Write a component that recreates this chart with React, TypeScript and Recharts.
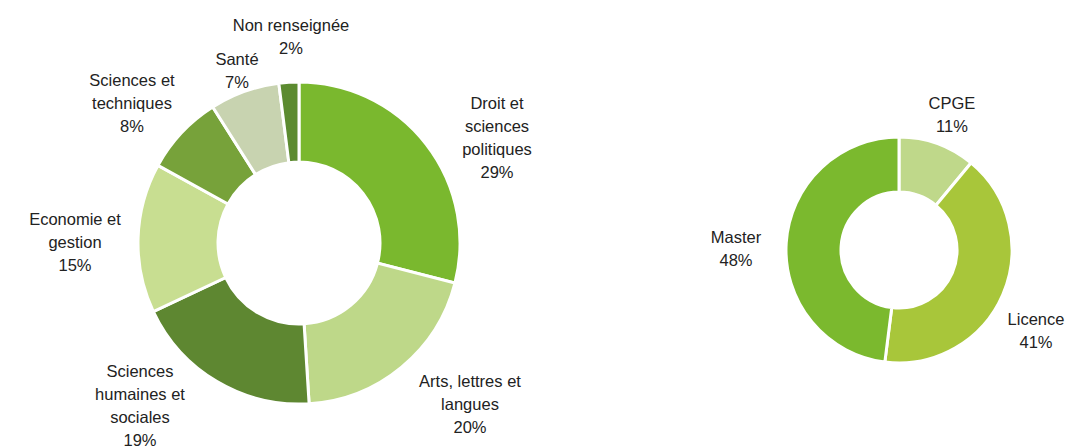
import { PieChart, Pie, Cell } from 'recharts';

// left donut: disciplines
const disciplineNames = [
  'Droit et|sciences|politiques',
  'Arts, lettres et|langues',
  'Sciences|humaines et|sociales',
  'Economie et|gestion',
  'Sciences et|techniques',
  'Santé',
  'Non renseignée',
];
const disciplineValues = [29, 20, 19, 15, 8, 7, 2];
const disciplineColors = ['#7ab82e', '#bed889', '#5e8731', '#c8de91', '#77a23a', '#c8d3b0', '#5c8b30'];
// label offsets from the donut centre (layout only)
const disciplineLabelOffsets = [
  [198, -106], [171, 161], [-159, 162], [-224, -1], [-167, -140], [-62, -173], [-8, -207],
];

// right donut: cursus level
const levelNames = ['CPGE', 'Licence', 'Master'];
const levelValues = [11, 41, 48];
const levelColors = ['#bfd88a', '#a8c63a', '#7bb92e'];
const levelLabelOffsets = [[53, -136], [137, 80], [-163, -2]];

const disciplineData = disciplineNames.map((name, i) => ({ name, value: disciplineValues[i] }));
const levelData = levelNames.map((name, i) => ({ name, value: levelValues[i] }));

const LINE_H = 23;

const makeLabel = (offsets: number[][]) => (props: any) => {
  const { cx, cy, index, name, value } = props;
  const lines = [...String(name).split('|'), `${value}%`];
  const x = cx + offsets[index][0];
  const y0 = cy + offsets[index][1] - ((lines.length - 1) * LINE_H) / 2;
  return (
    <text
      key={`lbl-${index}`}
      x={x}
      y={y0}
      textAnchor="middle"
      fill="#222"
      fontSize={16.5}
      fontFamily="'Liberation Sans', Arial, sans-serif"
    >
      {lines.map((l, i) => (
        <tspan key={i} x={x} y={y0 + i * LINE_H} dominantBaseline="central">
          {l}
        </tspan>
      ))}
    </text>
  );
};

const App = () => {
  return (
    <div style={{ position: 'absolute', left: 0, top: 0, background: '#fff' }}>
      <PieChart width={1068} height={446} margin={{ top: 0, right: 0, bottom: 0, left: 0 }}>
        <Pie
          data={disciplineData}
          dataKey="value"
          nameKey="name"
          cx={299}
          cy={243}
          innerRadius={81}
          outerRadius={161}
          startAngle={90}
          endAngle={-270}
          stroke="#fff"
          strokeWidth={3}
          labelLine={false}
          label={makeLabel(disciplineLabelOffsets)}
          isAnimationActive={false}
        >
          {disciplineData.map((d, i) => (
            <Cell key={d.name} fill={disciplineColors[i]} />
          ))}
        </Pie>
        <Pie
          data={levelData}
          dataKey="value"
          nameKey="name"
          cx={899}
          cy={250}
          innerRadius={58}
          outerRadius={113}
          startAngle={90}
          endAngle={-270}
          stroke="#fff"
          strokeWidth={3}
          labelLine={false}
          label={makeLabel(levelLabelOffsets)}
          isAnimationActive={false}
        >
          {levelData.map((d, i) => (
            <Cell key={d.name} fill={levelColors[i]} />
          ))}
        </Pie>
      </PieChart>
    </div>
  );
};

export default App;
